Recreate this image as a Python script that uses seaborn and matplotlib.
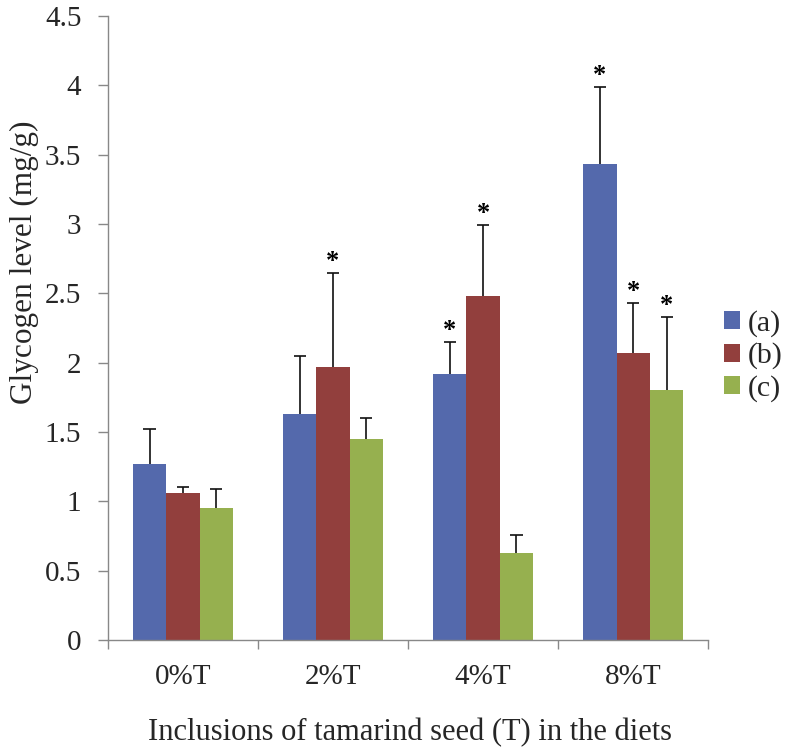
import matplotlib
matplotlib.use("Agg")
import matplotlib.pyplot as plt
from matplotlib.ticker import FixedLocator, NullFormatter
from matplotlib.container import BarContainer
import seaborn as sns
import pandas as pd
import numpy as np

categories = ["0%T", "2%T", "4%T", "8%T"]
series = ["(a)", "(b)", "(c)"]
vals_a = [1.27, 1.63, 1.92, 3.43]
vals_b = [1.06, 1.97, 2.48, 2.07]
vals_c = [0.95, 1.45, 0.63, 1.80]
err_a = [0.25, 0.42, 0.23, 0.56]
err_b = [0.04, 0.68, 0.51, 0.36]
err_c = [0.14, 0.15, 0.13, 0.53]
stars_a = [False, False, True, True]
stars_b = [False, True, True, True]
stars_c = [False, False, False, True]
colors = ["#5469AC", "#923F3D", "#96B04F"]

sns.set_style("white")
plt.rcParams["font.family"] = ["Liberation Serif", "DejaVu Serif"]

rows = []
for s, v in zip(series, [vals_a, vals_b, vals_c]):
    for c, y in zip(categories, v):
        rows.append({"cat": c, "series": s, "value": y})
df = pd.DataFrame(rows)

fig = plt.figure(figsize=(7.87, 7.5), dpi=100)
ax = fig.add_axes([0.137, 0.1467, 0.763, 0.832])

sns.barplot(data=df, x="cat", y="value", hue="series", order=categories,
            hue_order=series, palette=colors, width=0.667, errorbar=None,
            saturation=1, ax=ax, edgecolor="none", linewidth=0)

bar_containers = [c for c in ax.containers if isinstance(c, BarContainer)]
errs = [err_a, err_b, err_c]
stars = [stars_a, stars_b, stars_c]
vals = [vals_a, vals_b, vals_c]
cap_half = 0.04
for i, cont in enumerate(bar_containers):
    for j, bar in enumerate(cont.patches):
        xc = bar.get_x() + bar.get_width() / 2
        top = vals[i][j]
        hi = top + errs[i][j]
        ax.vlines(xc, top, hi, colors="#111111", linewidth=1.2, zorder=3)
        ax.hlines(hi, xc - cap_half, xc + cap_half, colors="#111111", linewidth=1.2, zorder=3)
        if stars[i][j]:
            ax.annotate("*", xy=(xc, hi), xytext=(0, 0),
                        textcoords="offset points", ha="center", va="bottom",
                        fontsize=19, fontweight="bold", color="black")

ax.set_xlim(-0.5, 3.5)
ax.set_ylim(0, 4.5)
ax.set_yticks(np.arange(0, 4.51, 0.5))
ax.set_yticklabels(["0", "0.5", "1", "1.5", "2", "2.5", "3", "3.5", "4", "4.5"])
ax.xaxis.set_minor_locator(FixedLocator([-0.5, 0.5, 1.5, 2.5, 3.5]))
ax.xaxis.set_minor_formatter(NullFormatter())
ax.tick_params(axis="x", which="major", length=0, labelsize=21, pad=17)
ax.tick_params(axis="x", which="minor", length=6.5, width=1, color="#888888", direction="out", bottom=True)
ax.tick_params(axis="y", which="major", length=7, width=1, color="#888888", direction="out", left=True, labelsize=21, pad=12)

for sp in ["top", "right"]:
    ax.spines[sp].set_visible(False)
for sp in ["left", "bottom"]:
    ax.spines[sp].set_color("#888888")
    ax.spines[sp].set_linewidth(1)

ax.set_xlabel("Inclusions of tamarind seed (T) in the diets", fontsize=22)
ax.set_ylabel("Glycogen level (mg/g)", fontsize=22.5)
ax.xaxis.set_label_coords(0.503, -0.125)
ax.yaxis.set_label_coords(-0.115, 0.606)

leg = ax.legend(loc="center left", bbox_to_anchor=(724 / 787, 1 - 356 / 750),
                bbox_transform=fig.transFigure, frameon=False,
                fontsize=21.5, handlelength=0.55, handleheight=0.55,
                handletextpad=0.25, labelspacing=0.2, borderaxespad=0, borderpad=0)

fig.savefig("out.png", dpi=100)
